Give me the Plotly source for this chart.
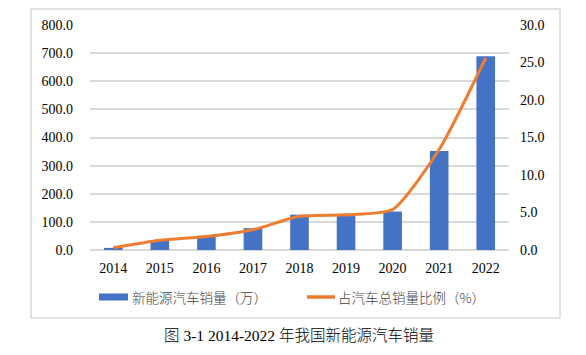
import plotly.graph_objects as go

years = ["2014", "2015", "2016", "2017", "2018", "2019", "2020", "2021", "2022"]
sales = [7.5, 33.1, 50.7, 77.7, 125.6, 120.6, 136.7, 352.1, 688.7]
share = [0.3, 1.3, 1.8, 2.7, 4.5, 4.7, 5.4, 13.4, 25.6]
name_bar = "新能源汽车销量（万）"
name_line = "占汽车总销量比例（%）"
caption = "图 3-1 2014-2022 年我国新能源汽车销量"

W, H = 586, 355
L, R, T, B = 90, 509, 25, 250

font_num = "Liberation Serif, Times New Roman, serif"
font_cjk = "Liberation Serif, Noto Sans CJK SC, serif"
font_leg = "Noto Sans CJK SC, sans-serif"

fig = go.Figure()
fig.add_trace(go.Bar(x=years, y=sales, name=name_bar,
                     marker=dict(color="#4472C4", line=dict(width=0)), yaxis="y"))
fig.add_trace(go.Scatter(x=years, y=share, name=name_line, mode="lines",
                         line=dict(color="#ED7D31", width=3, shape="spline", smoothing=0.6),
                         yaxis="y2"))

def px(x):
    return (x - L) / (R - L)

def py(y):
    return (B - y) / (B - T)

fig.update_layout(
    width=W, height=H,
    margin=dict(l=L, r=W - R, t=T, b=H - B, pad=0),
    paper_bgcolor="white", plot_bgcolor="white",
    bargap=0.6,
    showlegend=False,
    xaxis=dict(type="category", showgrid=False, showline=False, ticks="",
               tickfont=dict(family=font_num, size=14, color="#000"),
               range=[-0.5, 8.5], ticklabelstandoff=8),
    yaxis=dict(range=[0, 800], dtick=100, tickformat=".1f", showgrid=True,
               gridcolor="#D9D9D9", gridwidth=1.5, zeroline=True, zerolinecolor="#D9D9D9",
               zerolinewidth=1.5, showline=False, ticks="",
               tickfont=dict(family=font_num, size=14, color="#000"), ticklabelstandoff=16),
    yaxis2=dict(range=[0, 30], dtick=5, tickformat=".1f", overlaying="y", side="right",
                showgrid=False, zeroline=False, showline=False, ticks="",
                tickfont=dict(family=font_num, size=14, color="#000"), ticklabelstandoff=10),
    font=dict(family=font_cjk),
)

# outer chart border
fig.add_shape(type="rect", xref="paper", yref="paper",
              x0=px(31), x1=px(560), y0=py(318), y1=py(9),
              line=dict(color="#D9D9D9", width=1.5), fillcolor="rgba(0,0,0,0)", layer="below")

# custom legend
fig.add_shape(type="rect", xref="paper", yref="paper",
              x0=px(99), x1=px(128), y0=py(300.5), y1=py(293.5),
              line=dict(width=0), fillcolor="#4472C4")
fig.add_annotation(text=name_bar, xref="paper", yref="paper", x=px(130), y=py(297),
                   xanchor="left", yanchor="middle", showarrow=False,
                   font=dict(family=font_leg, size=13.5, color="#404040", weight=300))
fig.add_shape(type="line", xref="paper", yref="paper",
              x0=px(307), x1=px(335), y0=py(297), y1=py(297),
              line=dict(color="#ED7D31", width=3.5))
fig.add_annotation(text=name_line, xref="paper", yref="paper", x=px(336), y=py(297),
                   xanchor="left", yanchor="middle", showarrow=False,
                   font=dict(family=font_leg, size=13.5, color="#404040", weight=300))

fig.add_annotation(text=caption, xref="paper", yref="paper",
                   x=px(299), y=py(335), xanchor="center", yanchor="middle", showarrow=False,
                   font=dict(family=font_cjk, size=15.5, color="#000", weight=300))

fig.write_html("out.html", post_script="document.body.style.margin='0';",
               config={"displayModeBar": False})
